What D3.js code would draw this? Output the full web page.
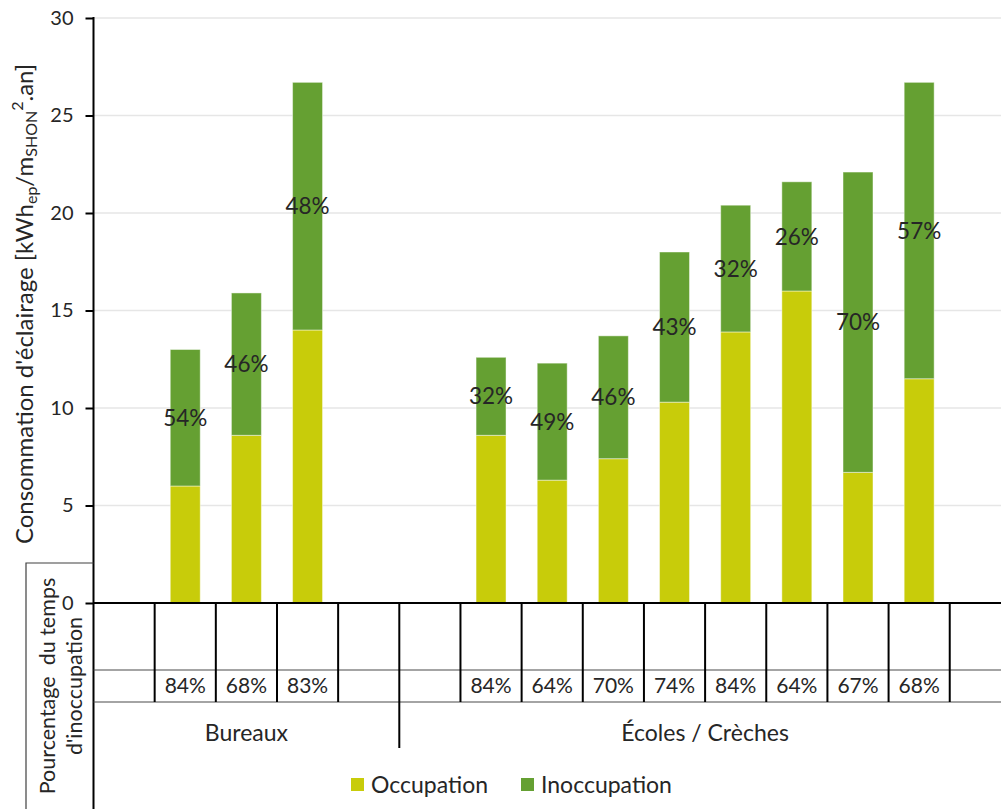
<!DOCTYPE html>
<html>
<head>
<meta charset="utf-8">
<script src="https://cdn.jsdelivr.net/npm/d3@7"></script>
<style>
  body { margin: 0; background: #fff; }
  svg text { font-family: Lato, "Noto Sans", sans-serif; fill: #262626; }
</style>
</head>
<body>
<svg id="chart" width="1001" height="809"></svg>
<script>
// Category slots along the x axis (empty slots frame each building group)
const slots = ["b0", "b1", "b2", "b3", "b4", "e0", "e1", "e2", "e3", "e4", "e5", "e6", "e7", "e8", "e9"];
const barSlots = ["b1", "b2", "b3", "e1", "e2", "e3", "e4", "e5", "e6", "e7", "e8"];

// Lighting consumption, kWh_ep / m²_SHON / year
const occupation   = [6.0, 8.6, 14.0, 8.6, 6.3, 7.4, 10.3, 13.9, 16.0, 6.7, 11.5];
const inoccupation = [7.0, 7.3, 12.7, 4.0, 6.0, 6.3, 7.7, 6.5, 5.6, 15.4, 15.2];

// Share of time the building is unoccupied (table row)
const tempsInoccupation = [84, 68, 83, 84, 64, 70, 74, 84, 64, 67, 68];

// Building groups
const groupNames = ["Bureaux", "Écoles / Crèches"];
const groupFirst = ["b0", "e0"];
const groupLast  = ["b4", "e9"];

const yTicks = [0, 5, 10, 15, 20, 25, 30];
const seriesNames = ["Occupation", "Inoccupation"];
const colors = ["#c8cc0a", "#65a032"];

const svg = d3.select("#chart");
const W = 1001, H = 809;

const slotW = 61.16;
const x0 = 93.5;
const x = d3.scaleBand().domain(slots).range([x0, x0 + slots.length * slotW]).padding(0);
const y = d3.scaleLinear().domain([0, 30]).range([603, 18]);

const rows = barSlots.map((s, i) => ({
  slot: s,
  Occupation: occupation[i],
  Inoccupation: inoccupation[i],
  temps: tempsInoccupation[i]
}));

// Horizontal gridlines
svg.append("g")
  .selectAll("line")
  .data(yTicks.filter(t => t > 0))
  .join("line")
  .attr("x1", x0).attr("x2", W)
  .attr("y1", d => y(d)).attr("y2", d => y(d))
  .attr("stroke", "#e6e6e6")
  .attr("stroke-width", 1.5);

// Stacked bars
const stack = d3.stack().keys(seriesNames);
const layers = stack(rows);
const barW = slotW * 0.49;

svg.append("g")
  .selectAll("g")
  .data(layers)
  .join("g")
  .attr("fill", (d, i) => colors[i])
  .selectAll("rect")
  .data(d => d)
  .join("rect")
  .attr("x", d => x(d.data.slot) + (x.bandwidth() - barW) / 2)
  .attr("width", barW)
  .attr("y", d => y(d[1]))
  .attr("height", d => y(d[0]) - y(d[1]))
  .attr("stroke", "#ffffff")
  .attr("stroke-opacity", 0.45)
  .attr("stroke-width", 1);

// Unoccupied share of consumption, centred in the upper segment
const pct = d3.format(".0%");
svg.append("g")
  .selectAll("text")
  .data(layers[1])
  .join("text")
  .attr("x", d => x(d.data.slot) + x.bandwidth() / 2)
  .attr("y", d => (y(d[0]) + y(d[1])) / 2)
  .attr("dy", "0.36em")
  .attr("text-anchor", "middle")
  .attr("font-size", 22.5)
  .text(d => pct((d[1] - d[0]) / d[1]));

// Y axis
const yAxis = d3.axisLeft(y).tickValues(yTicks).tickSize(8).tickSizeOuter(0).tickPadding(12);
const gy = svg.append("g").attr("transform", `translate(${x0},0)`).call(yAxis);
gy.select(".domain").remove();
gy.selectAll(".tick line").attr("stroke", "#000").attr("stroke-width", 2);
gy.selectAll(".tick text").attr("font-size", 20).attr("font-family", "Lato, sans-serif").attr("fill", "#262626");

// Axis lines
svg.append("line").attr("x1", x0).attr("x2", x0).attr("y1", y(30) - 1).attr("y2", H)
  .attr("stroke", "#000").attr("stroke-width", 2);
svg.append("line").attr("x1", x0).attr("x2", W).attr("y1", y(0)).attr("y2", y(0))
  .attr("stroke", "#000").attr("stroke-width", 2);

// Table under the axis
const rowLine1 = 670, rowLine2 = 702, groupBottom = 748;
svg.append("g")
  .selectAll("line")
  .data([rowLine1, rowLine2])
  .join("line")
  .attr("x1", x0).attr("x2", W)
  .attr("y1", d => d).attr("y2", d => d)
  .attr("stroke", "#4a4a4a").attr("stroke-width", 1.2);

const boundaries = slots.slice(1).concat([null]).map((s, i) => ({
  xv: x0 + (i + 1) * slotW,
  groupEdge: groupFirst.includes(slots[i + 1])
}));
svg.append("g")
  .selectAll("line")
  .data(boundaries)
  .join("line")
  .attr("x1", d => d.xv).attr("x2", d => d.xv)
  .attr("y1", y(0))
  .attr("y2", d => d.groupEdge ? groupBottom : rowLine2)
  .attr("stroke", "#000").attr("stroke-width", 2);

svg.append("g")
  .selectAll("text")
  .data(rows)
  .join("text")
  .attr("x", d => x(d.slot) + x.bandwidth() / 2)
  .attr("y", (rowLine1 + rowLine2) / 2)
  .attr("dy", "0.33em")
  .attr("text-anchor", "middle")
  .attr("font-size", 21)
  .text(d => d.temps + "%");

svg.append("g")
  .selectAll("text")
  .data(groupNames)
  .join("text")
  .attr("x", (d, i) => (x(groupFirst[i]) + x(groupLast[i]) + x.bandwidth()) / 2)
  .attr("y", 733)
  .attr("dy", "0.36em")
  .attr("text-anchor", "middle")
  .attr("font-size", 23)
  .text(d => d);

// Row header box
svg.append("path")
  .attr("d", `M${x0},563 H26 V${H}`)
  .attr("fill", "none").attr("stroke", "#404040").attr("stroke-width", 1.2);

const header = svg.append("text")
  .attr("transform", `translate(0,686) rotate(-90)`)
  .attr("text-anchor", "middle")
  .attr("font-size", 21.5);
header.append("tspan").attr("x", 0).attr("y", 55).text("Pourcentage\u00a0 du temps");
header.append("tspan").attr("x", 0).attr("y", 82).text("d'inoccupation");

// Y axis title
const title = svg.append("text")
  .attr("transform", `translate(33,304) rotate(-90)`)
  .attr("text-anchor", "middle")
  .attr("font-size", 24);
title.append("tspan").text("Consommation d'éclairage [kWh");
title.append("tspan").attr("font-size", 16).attr("dy", 4).text("ep");
title.append("tspan").attr("dy", -4).text("/m");
title.append("tspan").attr("font-size", 16).attr("dy", 4).text("SHON");
title.append("tspan").attr("font-size", 16).attr("dy", -14).text("2");
title.append("tspan").attr("dy", 10).text(".an]");

// Legend
const legendX = [351, 521];
const lg = svg.append("g")
  .selectAll("g")
  .data(seriesNames)
  .join("g")
  .attr("transform", (d, i) => `translate(${legendX[i]},778)`);
lg.append("rect").attr("width", 13).attr("height", 13).attr("fill", (d, i) => colors[i]);
lg.append("text").attr("x", 20).attr("y", 14.5).attr("font-size", 23).text(d => d);
</script>
</body>
</html>
